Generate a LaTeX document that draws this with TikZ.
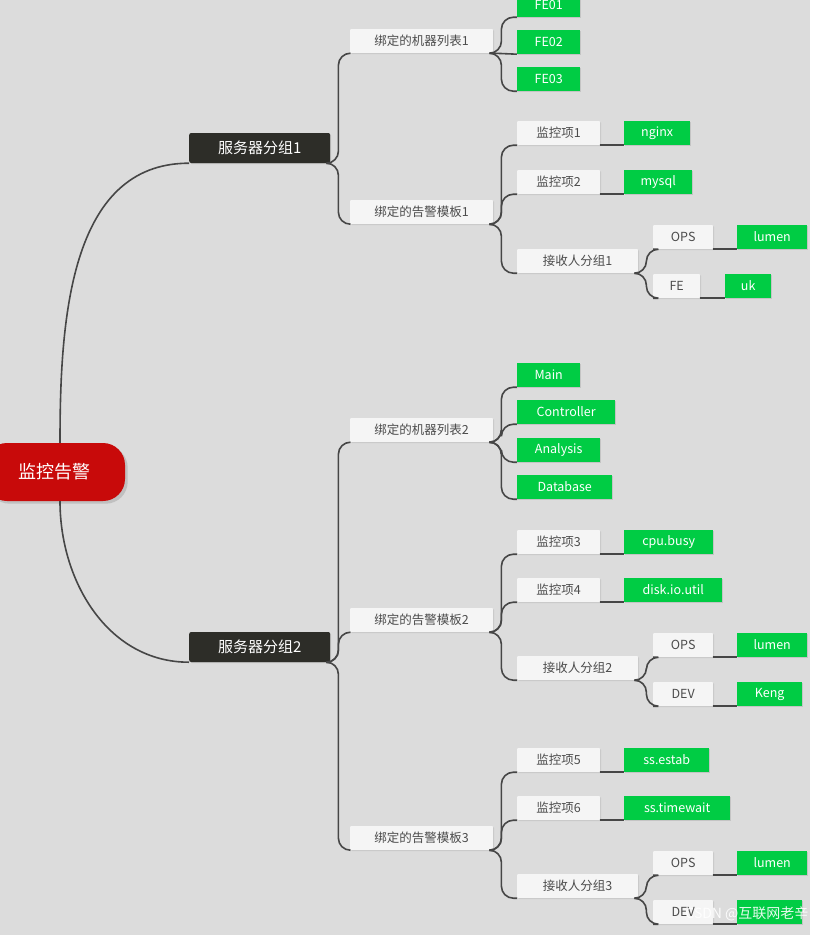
\documentclass[tikz,border=0pt]{standalone}
\usepackage{fontspec}
\setmainfont{Noto Sans CJK SC}
\usetikzlibrary{shadows}
\definecolor{bg}{RGB}{220,220,220}
\definecolor{grn}{RGB}{0,204,68}
\definecolor{dark}{RGB}{45,45,40}
\definecolor{redc}{RGB}{200,10,10}
\definecolor{lne}{RGB}{70,70,70}
\tikzset{
 base/.style={anchor=west,minimum height=24pt,inner sep=2pt,font=\fontsize{12.5}{13}\selectfont,drop shadow={opacity=0.25,shadow xshift=1pt,shadow yshift=-1pt}},
 wbox/.style={base,fill=white!96!black,text=black!70,rounded corners=1pt},
 gbox/.style={base,fill=grn,text=white},
 dbox/.style={base,fill=dark,text=white,minimum height=30pt,font=\fontsize{15}{16}\selectfont,rounded corners=2pt},
 conn/.style={draw=lne,line width=1.6pt,rounded corners=12pt},
}
\newcommand{\cn}[2]{\draw[conn] (#1.south east) -- ++(8,0) |- (#2.south west);}
\newcommand{\st}[2]{\draw[conn] (#1.south east) -- (#2.south west);}
\begin{document}
\begin{tikzpicture}[x=1pt,y=-1pt]
\useasboundingbox (0,0) rectangle (825,935);
\fill[bg] (0,0) rectangle (810,935);
\fill[white] (810,0) rectangle (825,935);
% root
\node[fill=redc,text=white,rounded corners=22pt,minimum width=140pt,minimum height=58pt,font=\fontsize{18}{20}\selectfont,drop shadow={opacity=0.3}] (root) at (55,472) {监控告警};
\node[dbox,minimum width=141pt] (g1) at (189,148) {服务器分组1};
\node[dbox,minimum width=141pt] (g2) at (189,647) {服务器分组2};
\draw[conn,rounded corners=0] (root.north) ++(5,0) to[out=90,in=180] (g1.south west);
\draw[conn,rounded corners=0] (root.south) ++(5,0) to[out=-90,in=180] (g2.south west);
% level 2
\node[wbox,minimum width=143pt] (m1) at (350,41) {绑定的机器列表1};
\node[wbox,minimum width=143pt] (t1) at (350,212) {绑定的告警模板1};
\node[wbox,minimum width=143pt] (m2) at (350,430) {绑定的机器列表2};
\node[wbox,minimum width=143pt] (t2) at (350,620) {绑定的告警模板2};
\node[wbox,minimum width=143pt] (t3) at (350,838) {绑定的告警模板3};
\cn{g1}{m1}\cn{g1}{t1}\cn{g2}{m2}\cn{g2}{t2}\cn{g2}{t3}
% group 1
\node[gbox,minimum width=63pt] (fe1) at (517,5) {FE01};
\node[gbox,minimum width=63pt] (fe2) at (517,42) {FE02};
\node[gbox,minimum width=63pt] (fe3) at (517,79) {FE03};
\cn{m1}{fe1}\st{m1}{fe2}\cn{m1}{fe3}
\node[wbox,minimum width=83pt] (j1) at (517,133) {监控项1};
\node[wbox,minimum width=83pt] (j2) at (517,182) {监控项2};
\node[wbox,minimum width=121pt] (r1) at (517,261) {接收人分组1};
\cn{t1}{j1}\cn{t1}{j2}\cn{t1}{r1}
\node[gbox,minimum width=66pt] (nginx) at (624,133) {nginx};
\node[gbox,minimum width=68pt] (mysql) at (624,182) {mysql};
\st{j1}{nginx}\st{j2}{mysql}
\node[wbox,minimum width=60pt] (ops1) at (653,237) {OPS};
\node[wbox,minimum width=47pt] (fe) at (653,286) {FE};
\cn{r1}{ops1}\cn{r1}{fe}
\node[gbox,minimum width=70pt] (lu1) at (737,237) {lumen};
\node[gbox,minimum width=46pt] (uk) at (725,286) {uk};
\st{ops1}{lu1}\st{fe}{uk}
% group 2
\node[gbox,minimum width=63pt] (mn) at (517,375) {Main};
\node[gbox,minimum width=98pt] (ct) at (517,412) {Controller};
\node[gbox,minimum width=83pt] (an) at (517,450) {Analysis};
\node[gbox,minimum width=95pt] (db) at (517,487) {Database};
\cn{m2}{mn}\cn{m2}{ct}\cn{m2}{an}\cn{m2}{db}
\node[wbox,minimum width=83pt] (j3) at (517,542) {监控项3};
\node[wbox,minimum width=83pt] (j4) at (517,590) {监控项4};
\node[wbox,minimum width=121pt] (r2) at (517,668) {接收人分组2};
\cn{t2}{j3}\cn{t2}{j4}\cn{t2}{r2}
\node[gbox,minimum width=89pt] (cpu) at (624,542) {cpu.busy};
\node[gbox,minimum width=98pt] (disk) at (624,590) {disk.io.util};
\st{j3}{cpu}\st{j4}{disk}
\node[wbox,minimum width=60pt] (ops2) at (653,645) {OPS};
\node[wbox,minimum width=60pt] (dev2) at (653,694) {DEV};
\cn{r2}{ops2}\cn{r2}{dev2}
\node[gbox,minimum width=70pt] (lu2) at (737,645) {lumen};
\node[gbox,minimum width=65pt] (keng) at (737,694) {Keng};
\st{ops2}{lu2}\st{dev2}{keng}
\node[wbox,minimum width=83pt] (j5) at (517,760) {监控项5};
\node[wbox,minimum width=83pt] (j6) at (517,808) {监控项6};
\node[wbox,minimum width=121pt] (r3) at (517,886) {接收人分组3};
\cn{t3}{j5}\cn{t3}{j6}\cn{t3}{r3}
\node[gbox,minimum width=85pt] (sse) at (624,760) {ss.estab};
\node[gbox,minimum width=106pt] (sst) at (624,808) {ss.timewait};
\st{j5}{sse}\st{j6}{sst}
\node[wbox,minimum width=60pt] (ops3) at (653,863) {OPS};
\node[wbox,minimum width=60pt] (dev3) at (653,912) {DEV};
\cn{r3}{ops3}\cn{r3}{dev3}
\node[gbox,minimum width=70pt] (lu3) at (737,863) {lumen};
\node[gbox,minimum width=65pt] (k3) at (737,912) {\phantom{Keng}};
\st{ops3}{lu3}\st{dev3}{k3}
\node[anchor=east,text=white,font=\fontsize{14}{15}\selectfont,opacity=0.9] (wm) at (812,914) {CSDN @互联网老辛};
\end{tikzpicture}
\end{document}
